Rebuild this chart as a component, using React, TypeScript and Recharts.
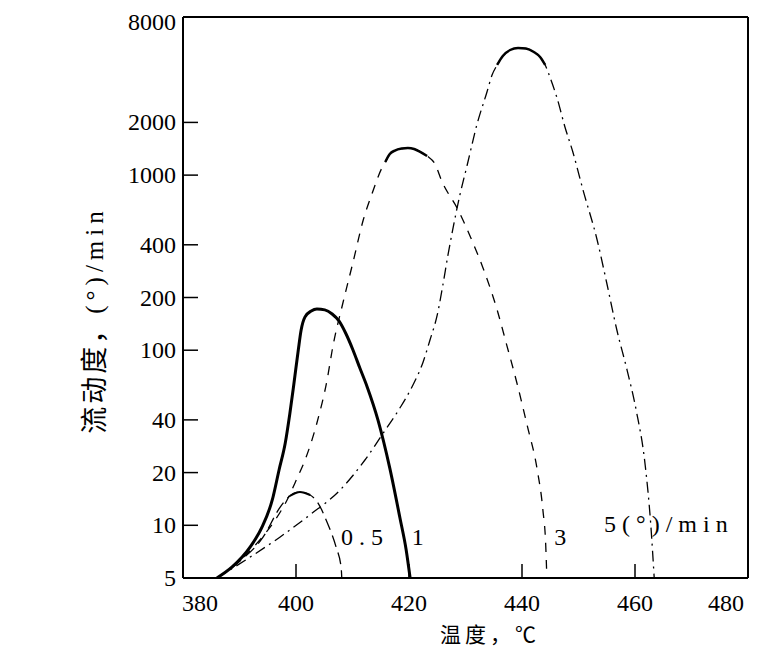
import React from "react";
import {
  LineChart,
  Line,
  XAxis,
  YAxis,
  ReferenceLine,
  ReferenceDot,
} from "recharts";

// 升温速率 0.5 / 1 / 3 / 5 (°)/min 下的流动度曲线（对数纵轴）
const temp05 = [386, 390.1, 394.2, 397.2, 398.9, 400.7, 402.5, 403.9, 405.5, 407.1, 408.0, 408.1];
const flow05 = [5, 6.25, 8.58, 12.7, 14.7, 15.5, 14.9, 13.4, 10.4, 7.5, 5.7, 5];

const temp1 = [386, 388.7, 391.9, 394.0, 395.8, 397.0, 398.1, 398.9, 399.6, 400.4, 400.9, 401.6, 402.7, 403.7, 405.1, 406.4, 407.6, 408.8, 410.1, 411.3, 412.6, 414.5, 416.6, 418.4, 419.5, 420.2];
const flow1 = [5, 5.78, 7.52, 9.78, 13.95, 20.7, 29.5, 43.2, 63.3, 100, 130, 155, 167.5, 172, 170, 161, 147, 125, 100, 79.1, 61.7, 40.0, 21.2, 11.0, 7.23, 5];

const temp3 = [386, 390.1, 393.6, 396.3, 398.4, 400.2, 401.6, 403.7, 405.5, 406.5, 408.3, 410.1, 411.9, 413.5, 415.2, 415.8, 416.6, 417.5, 418.8, 419.8, 420.9, 421.9, 423.2, 424.6, 425.8, 428.7, 430.8, 433.1, 435.6, 437.3, 439.1, 440.9, 442.7, 443.7, 444.2, 444.4];
const flow3 = [5, 6.3, 8.25, 10.7, 13.9, 18.6, 23.6, 38.4, 67.6, 104, 186, 319, 554, 791, 1098, 1188, 1320, 1382, 1419, 1428, 1410, 1364, 1286, 1157, 925, 632, 449, 295, 170, 107, 65, 37.4, 20.7, 12.2, 7.7, 5];

const temp5 = [386, 391.9, 397.2, 402.5, 407.8, 412.2, 415.8, 418.4, 420.7, 422.5, 423.7, 425.0, 426.0, 426.9, 427.8, 429.0, 430.3, 432.0, 433.8, 434.7, 435.6, 436.6, 437.9, 439.3, 440.7, 442.1, 443.2, 444.1, 445.0, 446.2, 447.6, 449.0, 450.8, 453.3, 455.0, 456.8, 458.6, 460.2, 461.8, 462.8, 463.4];
const flow5 = [5, 6.59, 8.58, 11.5, 15.9, 23.6, 35.0, 46.8, 63.3, 85.7, 114, 159, 236, 350, 499, 769, 1142, 1932, 2985, 3731, 4256, 4789, 5183, 5321, 5285, 5047, 4726, 4256, 3586, 2757, 1883, 1355, 822, 426, 242, 130, 77, 45.6, 22.1, 10.0, 5];

const xTicks = [380, 400, 420, 440, 460, 480];
const yTicks = [5, 10, 20, 40, 100, 200, 400, 1000, 2000, 8000];

const curveLabels = [
  { x: 412.2, y: 8.6, text: "0.5" },
  { x: 422.1, y: 8.6, text: "1" },
  { x: 447.3, y: 8.6, text: "3" },
  { x: 466.0, y: 10.2, text: "5(°)/min" },
];

const toPoints = (xs: number[], ys: number[]) => xs.map((x, i) => ({ x, y: ys[i] }));

const serif = "'Liberation Serif', 'DejaVu Serif', serif";
const cjk = "'Noto Sans CJK SC', sans-serif";

function XTick(props: any) {
  const { x, y, payload } = props;
  const v = payload.value;
  const edge = v === 380 || v === 480;
  const dx = v === 380 ? 17 : v === 480 ? -15 : 0;
  return (
    <g>
      {!edge && <line x1={x} y1={y} x2={x} y2={y - 14} stroke="#000" strokeWidth={1.5} />}
      <text x={x + dx} y={y + 33} textAnchor="middle" fill="#000" style={{ fontFamily: serif, fontSize: 24 }}>
        {v}
      </text>
    </g>
  );
}

function YTick(props: any) {
  const { x, y, payload } = props;
  const v = payload.value;
  return (
    <g>
      {v !== 8000 && v !== 5 && <line x1={x} y1={y} x2={x + 15} y2={y} stroke="#000" strokeWidth={1.5} />}
      <text x={x - 7} y={v === 8000 ? y + 13 : y + 8} textAnchor="end" fill="#000" style={{ fontFamily: serif, fontSize: 24 }}>
        {v}
      </text>
    </g>
  );
}

const lineBase = { dataKey: "y", type: "monotone" as const, stroke: "#000", dot: false, isAnimationActive: false };

export default function App() {
  return (
    <LineChart width={745} height={640} margin={{ top: 9, right: 5, bottom: 0, left: 0 }}>
      <XAxis
        type="number"
        dataKey="x"
        domain={[380, 480]}
        ticks={xTicks}
        allowDataOverflow
        height={70}
        axisLine={{ stroke: "#000", strokeWidth: 2 }}
        tickLine={false}
        tickSize={0}
        tickMargin={0}
        tick={(p: any) => <XTick {...p} />}
        label={{
          content: () => (
            <text x={482} y={634} textAnchor="middle" fill="#000" style={{ fontFamily: cjk, fontSize: 21, letterSpacing: 4 }}>
              温度，℃
            </text>
          ),
        }}
      />
      <YAxis
        scale="log"
        type="number"
        domain={[5, 8000]}
        ticks={yTicks}
        allowDataOverflow
        width={175}
        axisLine={{ stroke: "#000", strokeWidth: 2 }}
        tickLine={false}
        tickSize={0}
        tickMargin={0}
        tick={(p: any) => <YTick {...p} />}
        label={{
          content: () => (
            <text
              x={89}
              y={312}
              transform="rotate(-90 89 312)"
              textAnchor="middle"
              dominantBaseline="middle"
              fill="#000"
            >
              <tspan style={{ fontFamily: cjk, fontSize: 27, letterSpacing: 3 }}>流动度，</tspan>
              <tspan style={{ fontFamily: serif, fontSize: 25, letterSpacing: 5 }}>(°)/min</tspan>
            </text>
          ),
        }}
      />
      <ReferenceLine y={8000} stroke="#000" strokeWidth={2} />
      <ReferenceLine x={480} stroke="#000" strokeWidth={2} />

      <Line {...lineBase} data={toPoints(temp05, flow05)} strokeWidth={1.3} strokeDasharray="12 6" />
      <Line {...lineBase} data={toPoints(temp05, flow05).slice(4, 7)} strokeWidth={2} />
      <Line {...lineBase} data={toPoints(temp1, flow1)} strokeWidth={3} />
      <Line {...lineBase} data={toPoints(temp3, flow3)} strokeWidth={1.3} strokeDasharray="9 8" />
      <Line {...lineBase} data={toPoints(temp3, flow3).slice(15, 23)} strokeWidth={2.5} />
      <Line {...lineBase} data={toPoints(temp5, flow5)} strokeWidth={1.3} strokeDasharray="11 5 2 5" />
      <Line {...lineBase} data={toPoints(temp5, flow5).slice(20, 28)} strokeWidth={2.5} />

      {curveLabels.map((l) => (
        <ReferenceDot
          key={l.text}
          x={l.x}
          y={l.y}
          r={0}
          fill="none"
          stroke="none"
          label={{
            value: l.text,
            position: "center",
            fill: "#000",
            style: { fontFamily: serif, fontSize: 24, letterSpacing: 6 },
          }}
        />
      ))}
    </LineChart>
  );
}
